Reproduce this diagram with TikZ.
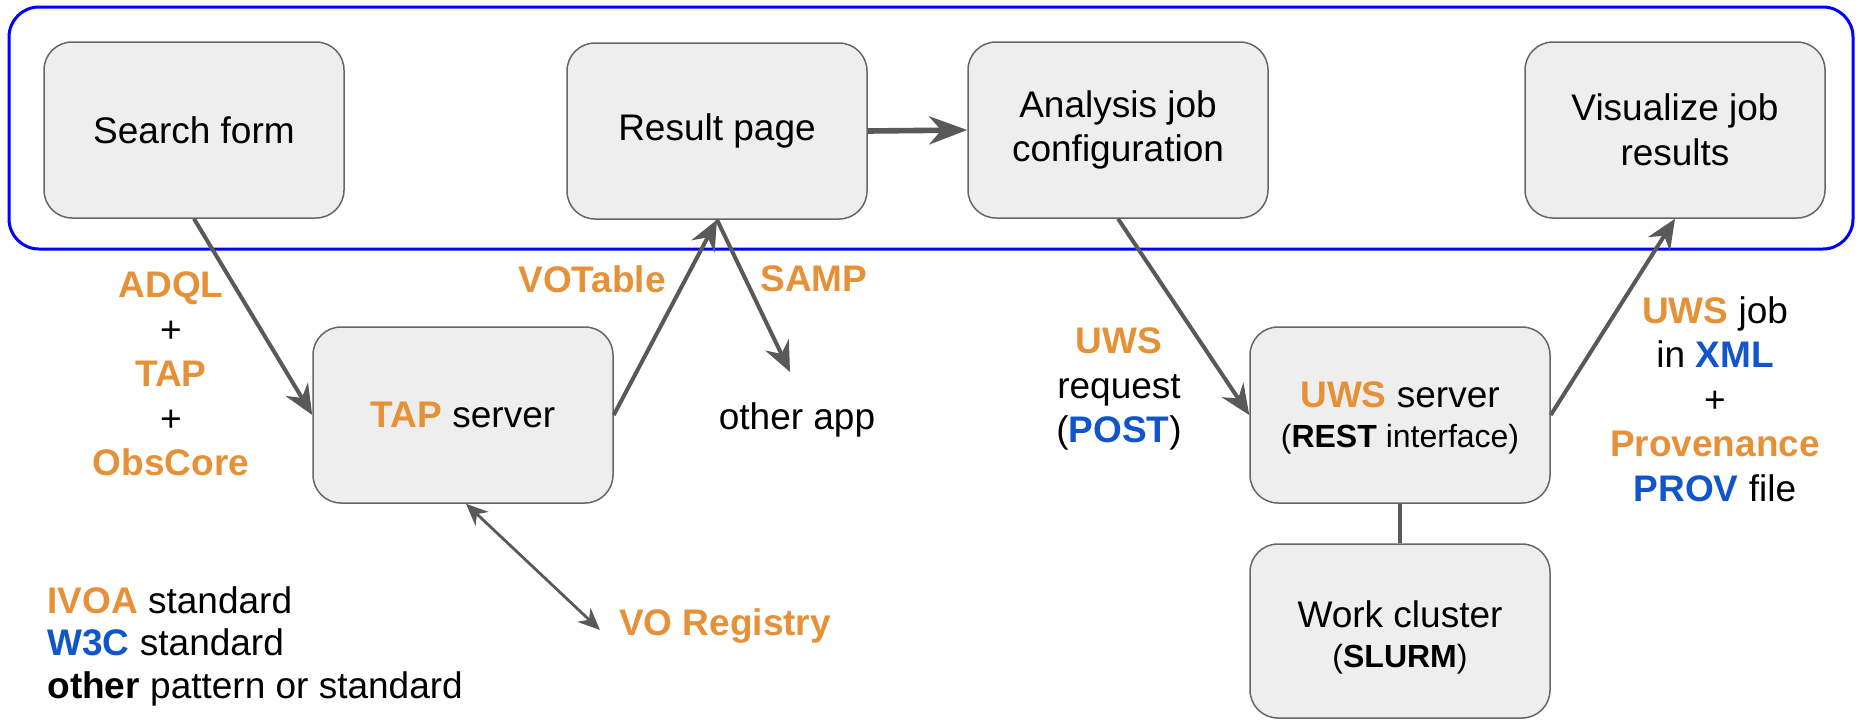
\documentclass[tikz,border=0pt]{standalone}
\usepackage{fontspec}
\setmainfont{Liberation Sans}
\usetikzlibrary{arrows.meta}
\definecolor{ivoa}{HTML}{E69138}
\definecolor{wthree}{HTML}{1155CC}
\definecolor{boxfill}{HTML}{EEEEEE}
\definecolor{boxline}{HTML}{666666}
\definecolor{arrowc}{HTML}{595959}
\definecolor{framec}{HTML}{0000FF}
\newcommand{\ivo}[1]{\textbf{\textcolor{ivoa}{#1}}}
\newcommand{\wtc}[1]{\textbf{\textcolor{wthree}{#1}}}
\newcommand{\smalltxt}{\fontsize{16}{19}\selectfont}
\begin{document}
\begin{tikzpicture}[x=0.5pt,y=-0.5pt,
  every node/.style={font=\fontsize{18.5}{22.25}\selectfont, inner sep=0pt},
  appbox/.style={draw=boxline, line width=0.75pt, fill=boxfill, rounded corners=14pt,
    minimum width=150pt, minimum height=88pt, align=center},
  lbl/.style={align=center},
  flow/.style={draw=arrowc, line width=2pt, -{Stealth[length=15pt,width=13pt,inset=5pt]}},
  bigflow/.style={draw=arrowc, line width=2.8pt, -{Stealth[length=19pt,width=14pt,inset=6pt]}},
  twoway/.style={draw=arrowc, line width=1.4pt,
    {Stealth[length=11pt,width=9.5pt,inset=3.5pt]}-{Stealth[length=11pt,width=9.5pt,inset=3.5pt]}},
  plain/.style={draw=arrowc, line width=2.2pt}
]
\useasboundingbox (0,0) rectangle (1858,719);

% frame
\node[draw=framec, line width=1.5pt, rounded corners=15pt, minimum width=922pt, minimum height=121pt] (frame) at (931,128) {};

% boxes
\node[appbox] (sf) at (194,130) {Search form};
\node[appbox] (rp) at (717,131) {Result page};
\node[appbox] (aj) at (1118,130) {Analysis job\\configuration};
\node[appbox] (vj) at (1675,130) {Visualize job\\results};
\node[appbox] (tap) at (463,415) {\ivo{TAP} server};
\node[appbox] (uws) at (1400,415) {\rule{0pt}{16pt}\ivo{UWS} server\\[-2pt]{\smalltxt(\textbf{REST} interface)}};
\node[appbox, minimum height=87pt] (wc) at (1400,631) {\rule{0pt}{20pt}Work cluster\\[-2pt]{\smalltxt(\textbf{SLURM})}};

% free ends
\coordinate (oa) at (790,372);
\coordinate (vr) at (600,630);

% labels
\node[lbl] (l1) at (171,374) {\ivo{ADQL}\\+\\\ivo{TAP}\\+\\\ivo{ObsCore}};
\node[lbl] (l2) at (592,279) {\ivo{VOTable}};
\node[lbl] (l3) at (814,279) {\ivo{SAMP}};
\node[lbl] (l4) at (797,420) {other app};
\node[lbl] (l5) at (1119,389) {\ivo{UWS}\\request\\(\wtc{POST})};
\node[lbl] (l6) at (1715,399) {\ivo{UWS} job\\in \wtc{XML}\\+\\\ivo{Provenance}\\\wtc{PROV} file};
\node[lbl] (l7) at (725,626) {\ivo{VO Registry}};
\node[align=left, anchor=west] (leg) at (47,646) {\ivo{IVOA} standard\\[-1pt]\wtc{W3C} standard\\[-1pt]\textbf{other} pattern or standard};

% connectors
\draw[flow] (sf.south) -- (tap.west);
\draw[flow] (tap.east) -- (rp.south);
\draw[flow] (rp.south) -- (oa);
\draw[bigflow] (rp.east) -- (aj.west);
\draw[flow] (aj.south) -- (uws.west);
\draw[flow] (uws.east) -- (vj.south);
\draw[plain] (uws.south) -- (wc.north);
\draw[twoway] ([xshift=1.5pt]tap.south) -- (vr);
\end{tikzpicture}
\end{document}
